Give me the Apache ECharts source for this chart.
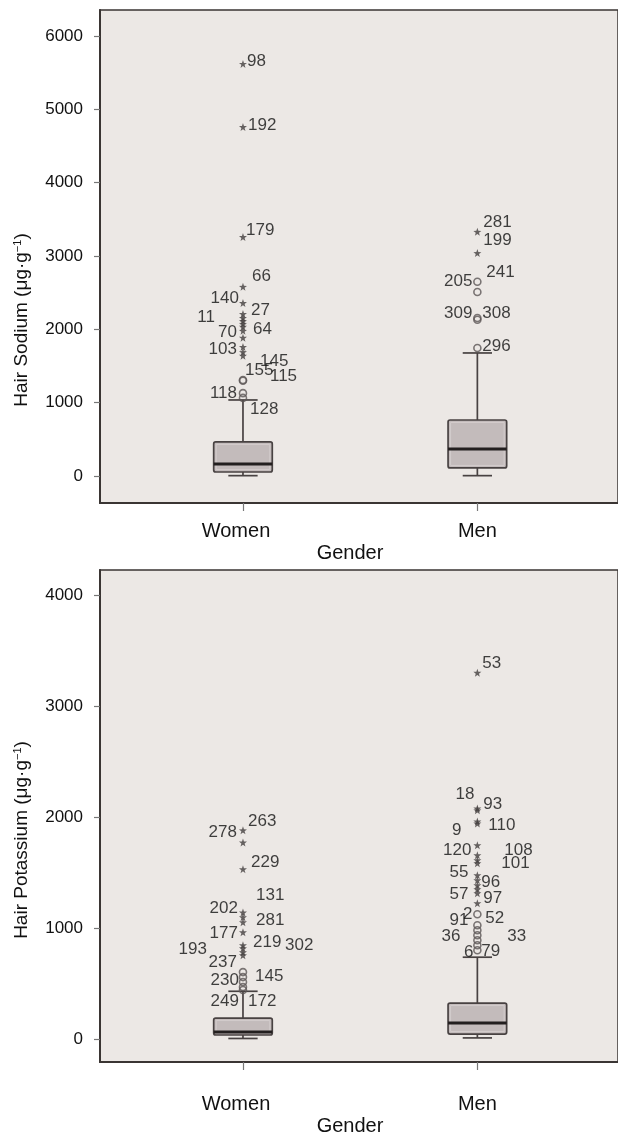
<!DOCTYPE html>
<html>
<head>
<meta charset="utf-8">
<script src="https://cdn.jsdelivr.net/npm/echarts@6/dist/echarts.min.js"></script>
<style>
  html, body { margin: 0; padding: 0; background: #ffffff; }
  #chart { width: 618px; height: 1133px; }
</style>
</head>
<body>
<div id="chart"></div>
<script>
// ---- data -------------------------------------------------------------
const groups = ['Women', 'Men'];
const sodiumTicks = [0, 1000, 2000, 3000, 4000, 5000, 6000];
const potassiumTicks = [0, 1000, 2000, 3000, 4000];

// box summaries: [lower whisker, Q1, median, Q3, upper whisker]
const sodiumBoxWomen = [5, 55, 165, 465, 1037];
const sodiumBoxMen = [5, 110, 368, 764, 1678];
const potassiumBoxWomen = [5, 36, 63, 189, 430];
const potassiumBoxMen = [10, 45, 144, 324, 737];

// outlying cases ('o' = outlier, '*' = extreme value)
const sodiumWomenValues = [5620, 4760, 3260, 2580, 2360, 2210, 2155, 2115, 2075, 2035, 1980, 1885, 1760, 1690, 1640, 1310, 1300, 1130, 1065];
const sodiumWomenIds    = ['98', '192', '179', '66', '140', '27', '11', '', '70', '64', '', '', '103', '', '145', '155', '115', '118', '128'];
const sodiumWomenMarks  = ['*', '*', '*', '*', '*', '*', '*', '*', '*', '*', '*', '*', '*', '*', '*', 'o', 'o', 'o', 'o'];

const sodiumMenValues = [3330, 3040, 2650, 2510, 2155, 2130, 1745];
const sodiumMenIds    = ['281', '199', '205', '241', '309', '308', '296'];
const sodiumMenMarks  = ['*', '*', 'o', 'o', 'o', 'o', 'o'];

const potassiumWomenValues = [1880, 1770, 1530, 1140, 1097, 1052, 962, 845, 818, 782, 755, 603, 558, 513, 468, 441];
const potassiumWomenIds    = ['263', '278', '229', '131', '202', '281', '177', '219', '302', '193', '237', '145', '230', '', '172', '249'];
const potassiumWomenMarks  = ['*', '*', '*', '*', '*', '*', '*', '*', '*', '*', '*', 'o', 'o', 'o', 'o', 'o'];

const potassiumMenValues = [3300, 2077, 2060, 1960, 1942, 1745, 1655, 1610, 1583, 1475, 1430, 1385, 1349, 1313, 1223, 1124, 1025, 980, 935, 890, 845, 800];
const potassiumMenIds    = ['53', '18', '93', '110', '9', '120', '108', '101', '', '55', '96', '', '', '57', '97', '2', '91', '52', '36', '33', '6', '79'];
const potassiumMenMarks  = ['*', '*', '*', '*', '*', '*', '*', '*', '*', '*', '*', '*', '*', '*', '*', 'o', 'o', 'o', 'o', 'o', 'o', 'o'];

// ---- label placement (pixel offsets from each marker; dx < 0 = label on the left) ----
const sodiumWomenLabelPos = [[4,-3],[5,-2],[3,-7],[9,-11],[-4,-5],[8,-4],[-28,-1],[0,0],[-6,8],[10,3],[0,0],[0,0],[-6,2],[0,0],[17,6],[2,-10],[27,-4],[-6,0],[7,11]];
const sodiumMenLabelPos = [[6,-10],[6,-13],[-5,0],[9,-20],[-5,-5],[5,-7],[5,-2]];
const potassiumWomenLabelPos = [[5,-9],[-6,-10],[8,-7],[13,-17],[-5,-9],[13,-2],[-5,1],[10,-3],[42,-3],[-36,-3],[-6,7],[12,4],[-4,3],[0,0],[5,14],[-4,11]];
const potassiumMenLabelPos = [[5,-9],[-3,-14],[6,-6],[11,4],[-16,7],[-6,5],[27,-5],[24,3],[0,0],[-9,-3],[4,2],[0,0],[0,0],[-9,1],[6,-5],[-5,0],[-9,-5],[8,-12],[-17,1],[30,-4],[-4,7],[4,1]];

// ---- styling ----------------------------------------------------------
const FONT = "'Liberation Sans', Arial, Helvetica, sans-serif";
const TEXT = '#111111';
const AXIS = '#3a3533';
const PANEL = '#ece8e5';
const BOX_WIDTH = 0.25;      // in x-axis units
const STAR = 'path://M0,-10 L2.35,-3.24 L9.51,-3.09 L3.8,1.24 L5.88,8.09 L0,4 L-5.88,8.09 L-3.8,1.24 L-9.51,-3.09 L-2.35,-3.24 Z';

function renderBox(params, api) {
  const x = api.value(0);
  const lo = api.coord([x, api.value(1)]);
  const q1 = api.coord([x, api.value(2)]);
  const md = api.coord([x, api.value(3)]);
  const q3 = api.coord([x, api.value(4)]);
  const hi = api.coord([x, api.value(5)]);
  const half = api.size([BOX_WIDTH, 0])[0] / 2;
  const cap = half / 2;
  const cx = md[0];
  const ln = { stroke: '#484242', lineWidth: 1.7 };
  return {
    type: 'group',
    children: [
      { type: 'line', shape: { x1: cx, y1: lo[1], x2: cx, y2: q1[1] }, style: ln },
      { type: 'line', shape: { x1: cx, y1: q3[1], x2: cx, y2: hi[1] }, style: ln },
      { type: 'line', shape: { x1: cx - cap, y1: lo[1], x2: cx + cap, y2: lo[1] }, style: ln },
      { type: 'line', shape: { x1: cx - cap, y1: hi[1], x2: cx + cap, y2: hi[1] }, style: ln },
      { type: 'rect', shape: { x: cx - half, y: q3[1], width: half * 2, height: q1[1] - q3[1], r: 2 },
        style: { fill: '#c3bbbb', stroke: '#484242', lineWidth: 1.7 } },
      { type: 'rect', shape: { x: cx - half + 2.5, y: q3[1] + 2.5, width: half * 2 - 5, height: Math.max(0, q1[1] - q3[1] - 5) },
        style: { fill: 'none', stroke: '#d3cccc', lineWidth: 1 } },
      { type: 'line', shape: { x1: cx - half, y1: md[1], x2: cx + half, y2: md[1] },
        style: { stroke: '#231f1f', lineWidth: 3 } }
    ]
  };
}

function outlierSeries(axisIndex, xPos, values, ids, marks, labelPos) {
  const data = values.map((v, i) => {
    const [dx, dy] = labelPos[i];
    const star = marks[i] === '*';
    return {
      value: [xPos, v],
      symbol: star ? STAR : 'circle',
      symbolSize: star ? 8 : 7,
      itemStyle: star
        ? { color: '#443f3f', borderWidth: 0 }
        : { color: 'rgba(0,0,0,0)', borderColor: '#5c5656', borderWidth: 1.6 },
      label: {
        show: ids[i] !== '',
        formatter: ids[i],
        align: dx < 0 ? 'right' : 'left',
        offset: [dx, dy]
      }
    };
  });
  return {
    type: 'scatter',
    xAxisIndex: axisIndex,
    yAxisIndex: axisIndex,
    data: data,
    z: 5,
    label: {
      position: 'inside',
      verticalAlign: 'middle',
      color: TEXT,
      fontFamily: FONT,
      fontSize: 17
    }
  };
}

function makeYAxis(gridIndex, min, max, ticks) {
  return {
    type: 'value', gridIndex: gridIndex, min: min, max: max,
    splitLine: { show: false },
    axisLine: { show: true, lineStyle: { color: AXIS, width: 2 } },
    axisTick: { show: true, customValues: ticks, length: 6, lineStyle: { color: '#777', width: 1.2 } },
    axisLabel: { customValues: ticks, margin: 17, color: TEXT, fontFamily: FONT, fontSize: 17,
      formatter: v => String(v) }
  };
}

function makeXAxis(gridIndex, margin) {
  return {
    type: 'value', gridIndex: gridIndex, min: 0.39, max: 2.6,
    splitLine: { show: false },
    axisLine: { show: true, onZero: false, lineStyle: { color: AXIS, width: 2 } },
    axisTick: { show: true, customValues: [1, 2], length: 8, lineStyle: { color: '#777', width: 1.2 } },
    axisLabel: {
      customValues: [1, 2], margin: margin, color: TEXT, fontFamily: FONT, fontSize: 20,
      formatter: v => (Math.round(v) === 1 ? '{w|' : '{m|') + groups[Math.round(v) - 1] + '}',
      rich: {
        w: { fontFamily: FONT, fontSize: 20, color: TEXT, padding: [0, 14, 0, 0] },
        m: { fontFamily: FONT, fontSize: 20, color: TEXT }
      }
    }
  };
}

function yTitle(cy, name) {
  return {
    type: 'text', x: 22, y: cy, rotation: Math.PI / 2,
    style: {
      text: '{b|' + name + ' (μg·g}{s|−1}{b|)}',
      align: 'center', verticalAlign: 'middle',
      rich: {
        b: { fontFamily: FONT, fontSize: 19, fill: TEXT },
        s: { fontFamily: FONT, fontSize: 11, fill: TEXT, verticalAlign: 'top', padding: [0, 0, 9, 0] }
      }
    }
  };
}

function gTitle(cy) {
  return {
    type: 'text', x: 350, y: cy,
    style: { text: 'Gender', fontFamily: FONT, fontSize: 20, fill: TEXT, align: 'center', verticalAlign: 'middle' }
  };
}

const chart = echarts.init(document.getElementById('chart'), null, { renderer: 'canvas' });
chart.setOption({
  backgroundColor: '#ffffff',
  animation: false,
  grid: [
    { left: 100, top: 10, width: 522, height: 493, show: true, backgroundColor: PANEL, borderColor: AXIS, borderWidth: 1.5 },
    { left: 100, top: 570, width: 522, height: 492, show: true, backgroundColor: PANEL, borderColor: AXIS, borderWidth: 1.5 }
  ],
  xAxis: [makeXAxis(0, 18), makeXAxis(1, 32)],
  yAxis: [makeYAxis(0, -368, 6355, sodiumTicks), makeYAxis(1, -207, 4225, potassiumTicks)],
  graphic: [
    yTitle(320, 'Hair Sodium'),
    yTitle(840, 'Hair Potassium'),
    gTitle(553),
    gTitle(1126)
  ],
  series: [
    {
      type: 'custom', xAxisIndex: 0, yAxisIndex: 0, renderItem: renderBox,
      data: [[1].concat(sodiumBoxWomen), [2].concat(sodiumBoxMen)], z: 3
    },
    {
      type: 'custom', xAxisIndex: 1, yAxisIndex: 1, renderItem: renderBox,
      data: [[1].concat(potassiumBoxWomen), [2].concat(potassiumBoxMen)], z: 3
    },
    outlierSeries(0, 1, sodiumWomenValues, sodiumWomenIds, sodiumWomenMarks, sodiumWomenLabelPos),
    outlierSeries(0, 2, sodiumMenValues, sodiumMenIds, sodiumMenMarks, sodiumMenLabelPos),
    outlierSeries(1, 1, potassiumWomenValues, potassiumWomenIds, potassiumWomenMarks, potassiumWomenLabelPos),
    outlierSeries(1, 2, potassiumMenValues, potassiumMenIds, potassiumMenMarks, potassiumMenLabelPos)
  ]
});
</script>
</body>
</html>
